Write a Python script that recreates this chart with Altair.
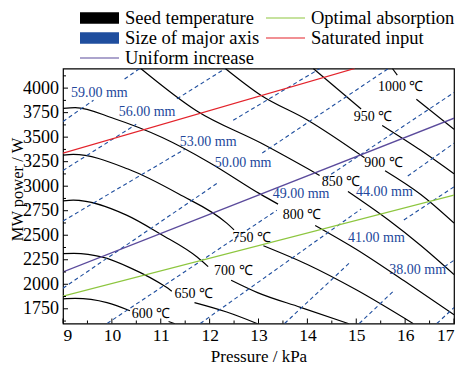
import altair as alt
import pandas as pd

SERIF = "Liberation Serif"

# ---------------- data ----------------
X_TICKS = [9, 10, 11, 12, 13, 14, 15, 16, 17]
X_MINOR = [9.5, 10.5, 11.5, 12.5, 13.5, 14.5, 15.5, 16.5]
Y_TICKS = [1750, 2000, 2250, 2500, 2750, 3000, 3250, 3500, 3750, 4000]
Y_MINOR = [1625, 1875, 2125, 2375, 2625, 2875, 3125, 3375, 3625, 3875, 4125]

# legend order (column-major: first column top to bottom, then second column)
SERIES = ["Seed temperature", "Size of major axis", "Uniform increase",
          "Optimal absorption", "Saturated input"]
COLORS = ["#000000", "#1f4e9e", "#5b4b9c", "#8dc63f", "#e3232b"]
LEGEND_WIDTHS = [11.5, 11.5, 1.2, 1.2, 1.2]
COL = dict(zip(SERIES, COLORS))

# seed-temperature isotherms (each: list of segments, broken at the label)
T600 = [[(9.0, 1852), (9.25, 1856), (9.90, 1813), (10.37, 1730)],
        [(11.16, 1620), (11.29, 1598)]]
T650 = [[(9.0, 2312), (9.22, 2315), (9.81, 2276), (10.365, 2170), (11.093, 1976), (11.226, 1930)],
        [(11.69, 1813), (12.35, 1717), (12.98, 1598)]]
T700 = [[(9.0, 2850), (9.21, 2858), (10.30, 2705), (11.0, 2510), (11.75, 2275), (11.97, 2180)],
        [(12.44, 2041), (12.98, 1915), (13.86, 1765), (14.85, 1598)]]
T750 = [[(9.0, 3317), (9.21, 3324), (10.33, 3175), (11.37, 2920), (12.35, 2623), (12.50, 2555)],
        [(13.10, 2393), (14.0, 2202), (15.0, 1944), (16.17, 1598)]]
T800 = [[(9.0, 3793), (9.25, 3802), (10.04, 3690), (11.03, 3496), (12.0, 3240), (13.04, 2919), (13.40, 2817)],
        [(14.16, 2600), (14.99, 2360), (15.98, 2035), (17.0, 1690)]]
T850 = [[(10.59, 4200), (11.73, 3769), (13.04, 3442), (14.25, 3110)],
        [(14.83, 2946), (15.66, 2655), (16.32, 2396), (17.0, 2100)]]
T900 = [[(12.32, 4200), (13.04, 3930), (14.0, 3675), (15.17, 3290)],
        [(15.59, 3158), (16.32, 2916), (17.0, 2625)]]
T950 = [[(14.12, 4200), (15.10, 3787)],
        [(15.53, 3620), (16.32, 3366), (17.0, 3127)]]
T1000 = [[(15.74, 4200), (15.84, 4132)],
         [(16.23, 3887), (17.0, 3580)]]
ISO = {"600": T600, "650": T650, "700": T700, "750": T750, "800": T800,
       "850": T850, "900": T900, "950": T950, "1000": T1000}

# major-axis size lines (dashed), broken at the label
D59 = [[(9.0, 3660), (9.625, 3877)], [(10.26, 4093), (10.571, 4200)]]
D56 = [[(9.0, 3160), (10.498, 3631)], [(11.331, 3891), (12.323, 4200)]]
D53 = [[(9.0, 2645), (11.49, 3376)], [(12.482, 3672), (14.258, 4200)]]
D50 = [[(9.0, 1960), (12.185, 3040)], [(13.077, 3338), (15.657, 4200)]]
D49 = [[(9.903, 1600), (13.375, 2754)], [(14.367, 3082), (17.0, 3955)]]
D44 = [[(11.808, 1600), (15.101, 2768)], [(16.054, 3104), (17.0, 3438)]]
D41 = [[(13.534, 1600), (14.863, 2218)], [(15.974, 2655), (17.0, 2994)]]
D38 = [[(15.062, 1600), (15.776, 1937)], [(16.802, 2179), (17.0, 2244)]]
D35 = [[(16.649, 1600), (17.0, 1762)]]
DASH = {"59": D59, "56": D56, "53": D53, "50": D50, "49": D49,
        "44": D44, "41": D41, "38": D38, "35": D35}

# straight reference lines
OPTIMAL = [(9.0, 1879), (17.0, 2910)]
SATURATED = [(9.0, 3336), (14.97, 4200)]
UNIFORM = [(9.0, 2125), (17.0, 3693)]

T_LABELS = [("600 ℃", 10.80, 1693), ("650 ℃", 11.676, 1896), ("700 ℃", 12.485, 2135),
            ("750 ℃", 12.864, 2474), ("800 ℃", 13.891, 2706), ("850 ℃", 14.69, 3038),
            ("900 ℃", 15.56, 3237), ("950 ℃", 15.344, 3703), ("1000 ℃", 15.909, 4013)]
MM_LABELS = [("59.00 mm", 9.744, 3955), ("56.00 mm", 10.72, 3754), ("53.00 mm", 11.97, 3455),
             ("50.00 mm", 12.685, 3232), ("49.00 mm", 13.871, 2919), ("44.00 mm", 15.577, 2936),
             ("41.00 mm", 15.413, 2470), ("38.00 mm", 16.256, 2147)]

# ---------------- tables ----------------
def seg_rows(key, segs):
    out = []
    for k, seg in enumerate(segs):
        for i, (x, y) in enumerate(seg):
            out.append({"seg": f"{key}-{k}", "i": i, "x": x, "y": y})
    return out

iso_rows = []
for k, v in ISO.items():
    iso_rows += seg_rows("T" + k, v)
dash_rows = []
for k, v in DASH.items():
    dash_rows += seg_rows("D" + k, v)

df_iso = pd.DataFrame(iso_rows)
df_dash = pd.DataFrame(dash_rows)
df_opt = pd.DataFrame(seg_rows("opt", [OPTIMAL]))
df_sat = pd.DataFrame(seg_rows("sat", [SATURATED]))
df_uni = pd.DataFrame(seg_rows("uni", [UNIFORM]))
df_t = pd.DataFrame(T_LABELS, columns=["t", "x", "y"])
df_mm = pd.DataFrame(MM_LABELS, columns=["t", "x", "y"])
df_xmaj = pd.DataFrame({"x": X_TICKS})
df_xmin = pd.DataFrame({"x": X_MINOR})
df_ymaj = pd.DataFrame({"y": Y_TICKS})
df_ymin = pd.DataFrame({"y": Y_MINOR})
df_leg = pd.DataFrame({"series": SERIES})

# ---------------- chart ----------------
W, H = 391, 255
PAD = {"left": 55, "top": 60.5, "right": 10, "bottom": 41.5}   # svg 456 x 357

xs = alt.Scale(domain=[9, 17], nice=False, zero=False)
ys = alt.Scale(domain=[1600, 4200], nice=False, zero=False)
cs = alt.Scale(domain=SERIES, range=COLORS)
sws = alt.Scale(type="ordinal", domain=SERIES, range=LEGEND_WIDTHS)

xaxis = alt.Axis(values=X_TICKS, title="Pressure / kPa", format="d", labelPadding=3,
                 titleY=37.7, titleBaseline="alphabetic", ticks=False, domain=False,
                 grid=False, labelFontSize=17.5, titleFontSize=17)
yaxis = alt.Axis(values=Y_TICKS, title="MW power / W", format="d", labelPadding=4.5,
                 titleX=-40.5, titleY=H / 2 - 7, titleAngle=270, titleBaseline="alphabetic",
                 ticks=False, domain=False, grid=False, labelFontSize=18, titleFontSize=16.5)

X = alt.X("x:Q", scale=xs, axis=xaxis)
Y = alt.Y("y:Q", scale=ys, axis=yaxis)

LINE = "M-1,0H1"
legend = alt.Legend(
    title=None, orient="none", legendX=11, legendY=-60.5, columns=2,
    columnPadding=-5.7, rowPadding=0, clipHeight=20, padding=0,
    symbolSize=1521, symbolType=LINE, symbolOpacity=1, labelOffset=0,
    labelFont=SERIF, labelFontSize=18.5, labelColor="black", labelLimit=300,
)

def curve_layer(df, color, width, dash=None, interp="linear"):
    kw = dict(clip=True, strokeWidth=width, color=color, interpolate=interp)
    if dash:
        kw["strokeDash"] = dash
    return alt.Chart(df).mark_line(**kw).encode(x=X, y=Y, detail="seg:N", order="i:Q")

iso = curve_layer(df_iso, COL["Seed temperature"], 1.2, interp="monotone")
dash = curve_layer(df_dash, COL["Size of major axis"], 1.1, dash=[4, 3])
opt = curve_layer(df_opt, COL["Optimal absorption"], 1.3)
sat = curve_layer(df_sat, COL["Saturated input"], 1.3)
uni = curve_layer(df_uni, COL["Uniform increase"], 1.3)

# legend carrier (zero-size points, legend only)
leg_layer = alt.Chart(df_leg).mark_point(filled=False, size=0, opacity=1, shape=LINE).encode(
    x=alt.value(0), y=alt.value(0),
    color=alt.Color("series:N", scale=cs, legend=legend),
    strokeWidth=alt.StrokeWidth("series:N", scale=sws, legend=legend),
)

xt_maj = alt.Chart(df_xmaj).mark_rule(color="black", strokeWidth=1).encode(
    x=X, y=alt.value(H), y2=alt.value(H - 5))
xt_min = alt.Chart(df_xmin).mark_rule(color="black", strokeWidth=1).encode(
    x=X, y=alt.value(H), y2=alt.value(H - 3))
yt_maj = alt.Chart(df_ymaj).mark_rule(color="black", strokeWidth=1).encode(
    y=Y, x=alt.value(0), x2=alt.value(5))
yt_min = alt.Chart(df_ymin).mark_rule(color="black", strokeWidth=1).encode(
    y=Y, x=alt.value(0), x2=alt.value(3))

t_text = alt.Chart(df_t).mark_text(font=SERIF, fontSize=14, color="black").encode(
    x=X, y=Y, text="t:N")
mm_text = alt.Chart(df_mm).mark_text(font=SERIF, fontSize=14, color="#22479b").encode(
    x=X, y=Y, text="t:N")

chart = alt.layer(iso, dash, opt, sat, uni, leg_layer, xt_maj, xt_min, yt_maj, yt_min,
                  t_text, mm_text).properties(
    width=W, height=H,
    autosize=alt.AutoSizeParams(type="none"),
    padding=PAD,
).configure_view(stroke="black", strokeWidth=1.2).configure_axis(
    labelFont=SERIF, titleFont=SERIF, labelColor="black", titleColor="black",
    titleFontWeight="normal")

chart.save("out.html", embed_options={"renderer": "svg", "actions": False})
